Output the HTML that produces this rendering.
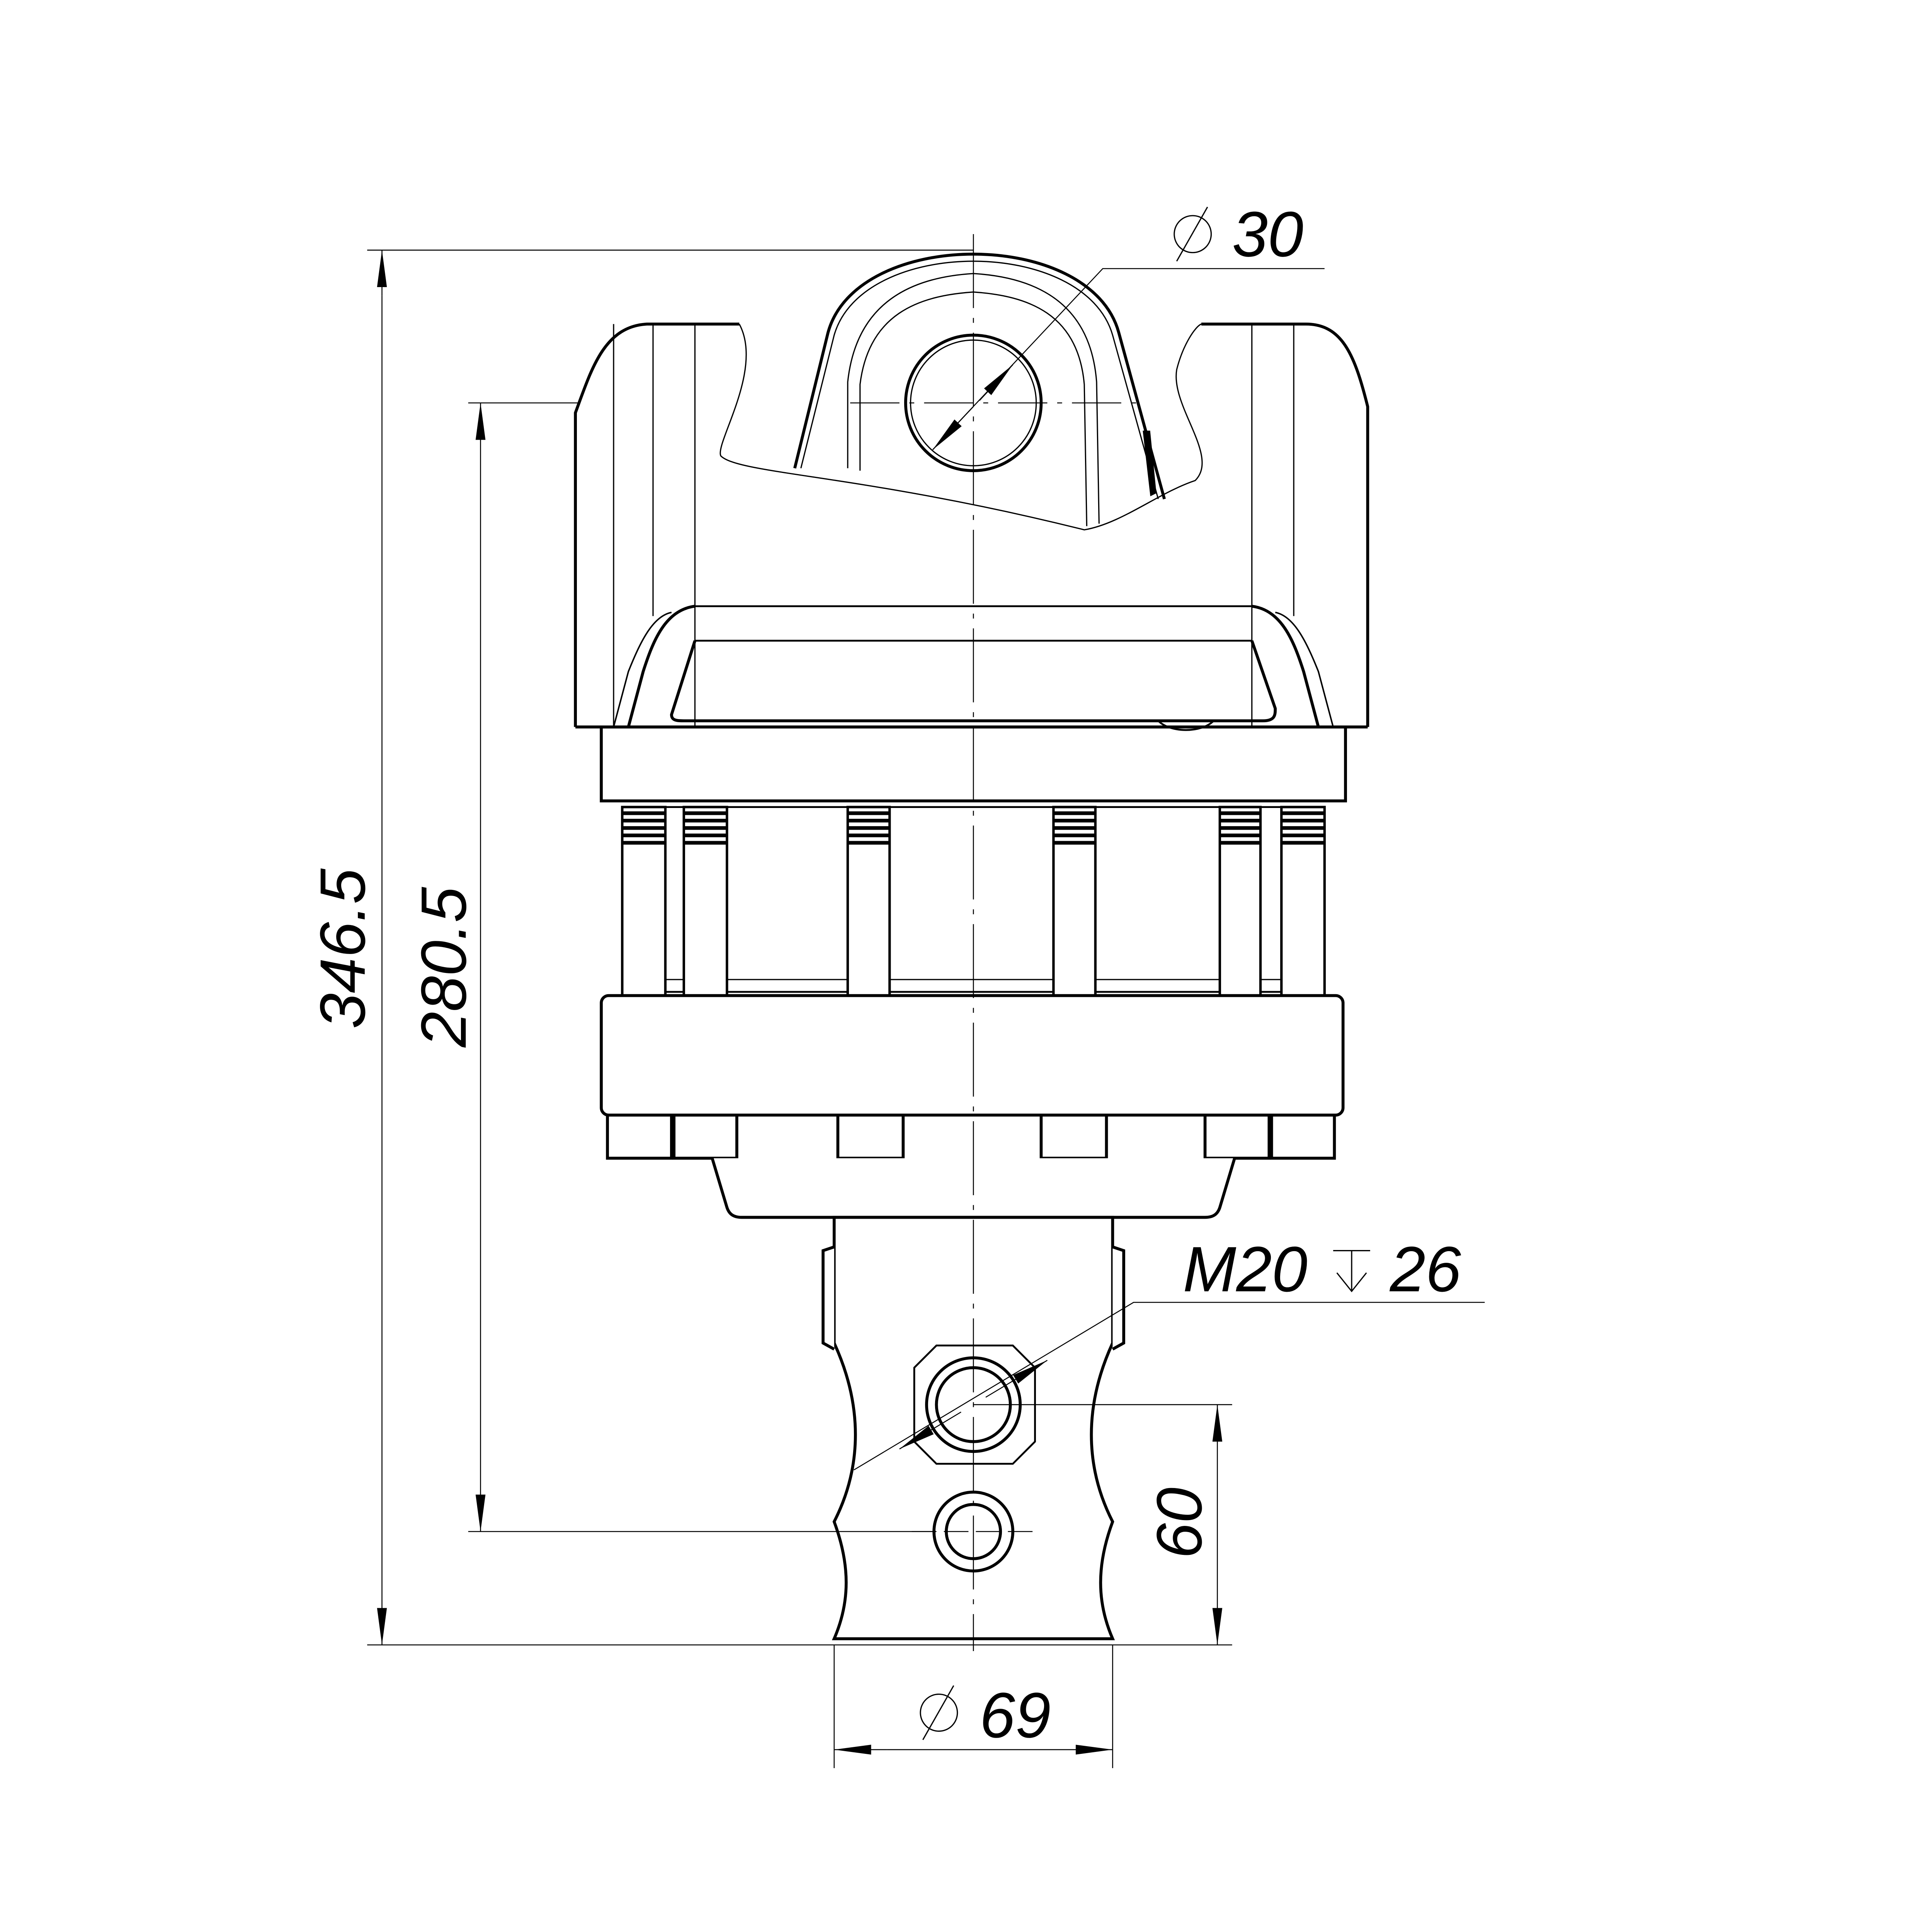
<!DOCTYPE html>
<html><head><style>html,body{margin:0;padding:0;background:#fff;width:100vw;height:100vh;overflow:hidden}svg{display:block;width:100vw;height:100vh}</style></head>
<body>
<svg viewBox="0 0 1568 1568" preserveAspectRatio="none" xmlns="http://www.w3.org/2000/svg">
<rect width="1568" height="1568" fill="#fff"/>
<defs>
<marker id="a" viewBox="0 0 30 10" refX="30" refY="5" markerWidth="30" markerHeight="10" markerUnits="userSpaceOnUse" orient="auto"><path d="M0,1 L30,5 L0,9 Z" fill="#000"/></marker>
</defs>
<g fill="none" stroke="#000" stroke-width="2.4">
<path d="M467,590 L467,335 C480,300 490,265 525,263 L600,263"/>
<path d="M975,263 L1060,263 C1090,263 1100,290 1110,330 L1110,590"/>
<path d="M467,590 L1110,590"/>
<line x1="498" y1="263" x2="498" y2="590" stroke-width="1"/>
<line x1="530" y1="263" x2="530" y2="500" stroke-width="1"/>
<line x1="564" y1="263" x2="564" y2="590" stroke-width="1"/>
<line x1="1016" y1="263" x2="1016" y2="590" stroke-width="1"/>
<line x1="1050" y1="263" x2="1050" y2="500" stroke-width="1"/>
<path d="M600,263 C620,300 580,360 585,370 C600,385 700,385 880,430 C910,425 940,400 970,390 C990,370 950,330 955,300 C960,280 970,265 975,263" stroke-width="1"/>
<path d="M645,380 L672,270 C695,185 885,185 908,270 L945,405"/>
<path d="M650,380 L677,272 C700,192 880,192 903,272 L940,405" stroke-width="1"/>
<path d="M688,380 L688,310 C695,245 740,225 790,222 C840,225 885,245 890,310 L892,425" stroke-width="1"/>
<path d="M698,382 L698,312 C705,255 745,240 790,237 C835,240 875,255 880,312 L882,427" stroke-width="1"/>
<path d="M928,350 L933,350 L938,400 L934,402 Z" fill="#000" stroke-width="1"/>
<circle cx="790" cy="327" r="55"/><circle cx="790" cy="327" r="51" stroke-width="1"/>
<path d="M564,492 L1016,492 M564,520 L1016,520" stroke-width="1.5"/>
<path d="M564,492 C540,495 530,520 522,545 L510,590 M1016,492 C1040,495 1050,520 1058,545 L1070,590"/>
<path d="M545,497 C530,500 520,520 510,545 L498,590 M1035,497 C1050,500 1060,520 1070,545 L1082,590" stroke-width="1.2"/>
<path d="M564,520 L545,580 C545,585 550,585 555,585 L1025,585 C1035,585 1035,580 1035,575 L1016,520"/>
<path d="M940,585 C950,595 975,595 985,585" stroke-width="1.5"/>
<rect x="488" y="590" width="604" height="60"/>
<rect x="540" y="655" width="500" height="150" stroke-width="1.5"/>
<line x1="540" y1="795" x2="1040" y2="795" stroke-width="1"/>
</g>
<g stroke="#000" stroke-width="2" fill="#fff">
<rect x="505" y="655" width="35" height="155"/>
<rect x="555" y="655" width="35" height="155"/>
<rect x="688" y="655" width="34" height="155"/>
<rect x="855" y="655" width="34" height="155"/>
<rect x="990" y="655" width="33" height="155"/>
<rect x="1040" y="655" width="35" height="155"/>
</g>
<g stroke="#000" stroke-width="3">
<path d="M505,660h35M505,666h35M505,672h35M505,678h35M505,684h35"/>
<path d="M555,660h35M555,666h35M555,672h35M555,678h35M555,684h35"/>
<path d="M688,660h34M688,666h34M688,672h34M688,678h34M688,684h34"/>
<path d="M855,660h34M855,666h34M855,672h34M855,678h34M855,684h34"/>
<path d="M990,660h33M990,666h33M990,672h33M990,678h33M990,684h33"/>
<path d="M1040,660h35M1040,666h35M1040,672h35M1040,678h35M1040,684h35"/>
</g>
<g fill="#fff" stroke="#000" stroke-width="2.4">
<rect x="488" y="808" width="602" height="97" rx="6"/>
<rect x="493" y="905" width="52" height="35"/>
<rect x="547" y="905" width="51" height="35"/>
<rect x="680" y="905" width="53" height="35"/>
<rect x="845" y="905" width="53" height="35"/>
<rect x="978" y="905" width="52" height="35"/>
<rect x="1032" y="905" width="51" height="35"/>
<path d="M578,940 L590,980 C592,986 596,988 602,988 L978,988 C984,988 988,986 990,980 L1002,940"/>
<path d="M677,988 L677,1090 C700,1140 700,1190 677,1235 C690,1270 690,1300 677,1330 L903,1330 C890,1300 890,1270 903,1235 C880,1190 880,1140 903,1090 L903,988 Z"/>
<path d="M677,1012 L668,1015 L668,1090 L677,1095 M903,1012 L912,1015 L912,1090 L903,1095"/>
<path d="M760,1092 L822,1092 L840,1110 L840,1170 L822,1188 L760,1188 L742,1170 L742,1110 Z" stroke-width="1.5"/>
<circle cx="790" cy="1140" r="38"/><circle cx="790" cy="1140" r="30"/>
<circle cx="790" cy="1243" r="32"/><circle cx="790" cy="1243" r="22"/>
</g>
<g fill="none" stroke="#000" stroke-width="0.8">
<line x1="298" y1="203" x2="790" y2="203"/>
<line x1="298" y1="1335" x2="1000" y2="1335"/>
<line x1="310" y1="240" x2="310" y2="203" marker-end="url(#a)"/>
<line x1="310" y1="240" x2="310" y2="1335" marker-end="url(#a)"/>
<line x1="380" y1="327" x2="470" y2="327"/>
<line x1="380" y1="1243" x2="760" y2="1243"/>
<line x1="390" y1="360" x2="390" y2="327" marker-end="url(#a)"/>
<line x1="390" y1="360" x2="390" y2="1243" marker-end="url(#a)"/>
<line x1="790" y1="1140" x2="1000" y2="1140"/>
<line x1="988" y1="1170" x2="988" y2="1140" marker-end="url(#a)"/>
<line x1="988" y1="1170" x2="988" y2="1335" marker-end="url(#a)"/>
<line x1="677" y1="1335" x2="677" y2="1435"/>
<line x1="903" y1="1335" x2="903" y2="1435"/>
<line x1="720" y1="1420" x2="677" y2="1420" marker-end="url(#a)"/>
<line x1="720" y1="1420" x2="903" y2="1420" marker-end="url(#a)"/>
<polyline points="757,365 895,218 1075,218"/>
<line x1="790" y1="330" x2="757" y2="365" marker-end="url(#a)"/>
<line x1="795" y1="325" x2="822" y2="296" marker-end="url(#a)"/>
<polyline points="693,1193 920,1057 1205,1057"/>
<line x1="800" y1="1134" x2="850" y2="1104" marker-end="url(#a)"/>
<line x1="780" y1="1146" x2="730" y2="1176" marker-end="url(#a)"/>
<line x1="790" y1="190" x2="790" y2="1340" stroke-dasharray="60,8,4,8"/>
<line x1="740" y1="1243" x2="840" y2="1243" stroke-dasharray="20,6"/>
<line x1="690" y1="327" x2="930" y2="327" stroke-dasharray="40,8,4,8"/>
</g>
<g font-family="Liberation Sans, sans-serif" font-style="italic" font-size="52" fill="#000">
<text x="1000" y="208">30</text>
<text x="960" y="1048">M20</text>
<text x="1128" y="1048">26</text>
<text x="795" y="1410">69</text>
<text transform="translate(296,835) rotate(-90)">346.5</text>
<text transform="translate(378,850) rotate(-90)">280.5</text>
<text transform="translate(975,1265) rotate(-90)">60</text>
</g>
<g fill="none" stroke="#000" stroke-width="1">
<circle cx="968" cy="190" r="15"/><line x1="955" y1="212" x2="980" y2="168"/>
<circle cx="762" cy="1390" r="15"/><line x1="749" y1="1412" x2="774" y2="1368"/>
<path d="M1082,1015 L1112,1015 M1097,1015 L1097,1048 M1085,1033 L1097,1048 L1109,1033"/>
</g>
</svg>
</body></html>
